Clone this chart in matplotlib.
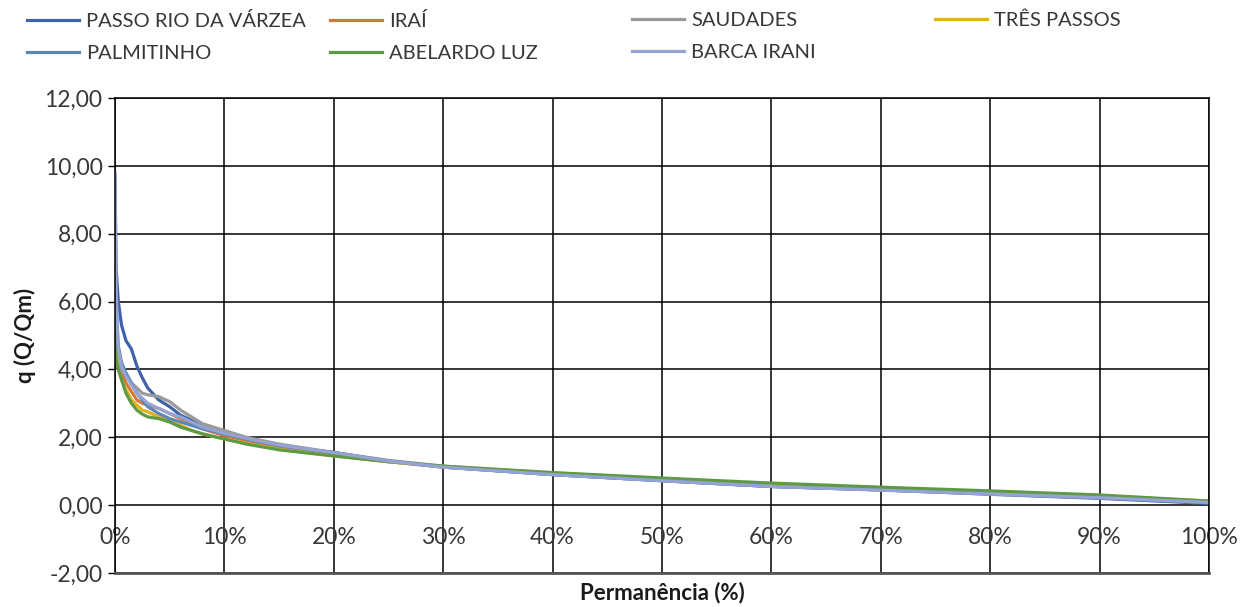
import matplotlib
matplotlib.use("Agg")
import matplotlib.pyplot as plt
from matplotlib.ticker import FuncFormatter, MultipleLocator

plt.rcParams['font.family'] = ['Lato', 'DejaVu Sans']

# Permanence (%)
perm = [0, 0.1, 0.3, 0.6, 1.0, 1.5, 2.0, 2.5, 3.0, 4.0, 5.0, 6.0, 7.0, 8.0,
        10, 12, 15, 20, 25, 30, 40, 50, 60, 70, 80, 90, 100]

passo_rio_da_varzea = [9.7, 7.0, 6.0, 5.3, 4.85, 4.6, 4.1, 3.75, 3.45, 3.1, 2.9, 2.65, 2.5, 2.3,
                       2.15, 1.95, 1.75, 1.55, 1.3, 1.12, 0.9, 0.72, 0.55, 0.45, 0.32, 0.2, 0.05]
irai = [8.9, 5.5, 4.3, 3.9, 3.6, 3.35, 3.1, 3.0, 2.95, 2.85, 2.7, 2.55, 2.4, 2.25,
        2.05, 1.9, 1.7, 1.48, 1.28, 1.12, 0.92, 0.75, 0.6, 0.48, 0.38, 0.27, 0.1]
saudades = [7.3, 5.0, 4.3, 4.0, 3.8, 3.6, 3.45, 3.3, 3.25, 3.2, 3.05, 2.8, 2.6, 2.4,
            2.2, 2.0, 1.8, 1.55, 1.32, 1.15, 0.92, 0.73, 0.56, 0.45, 0.33, 0.22, 0.08]
tres_passos = [6.5, 4.5, 4.0, 3.7, 3.4, 3.1, 2.95, 2.8, 2.75, 2.6, 2.5, 2.35, 2.2, 2.1,
               1.95, 1.82, 1.65, 1.45, 1.28, 1.14, 0.95, 0.78, 0.62, 0.5, 0.4, 0.28, 0.12]
palmitinho = [8.2, 5.8, 4.7, 4.2, 3.9, 3.6, 3.3, 3.1, 2.9, 2.7, 2.55, 2.45, 2.35, 2.25,
              2.1, 1.95, 1.75, 1.55, 1.3, 1.13, 0.9, 0.72, 0.55, 0.45, 0.34, 0.22, 0.07]
abelardo_luz = [6.0, 4.3, 4.0, 3.7, 3.3, 3.0, 2.8, 2.68, 2.6, 2.55, 2.45, 2.3, 2.2, 2.1,
                1.95, 1.8, 1.63, 1.45, 1.28, 1.15, 0.96, 0.8, 0.65, 0.53, 0.42, 0.3, 0.12]
barca_irani = [9.8, 6.3, 4.6, 4.1, 3.8, 3.55, 3.3, 3.15, 3.0, 2.85, 2.7, 2.6, 2.45, 2.3,
               2.12, 1.97, 1.77, 1.55, 1.3, 1.12, 0.9, 0.72, 0.55, 0.44, 0.33, 0.22, 0.08]

series_names = ["PASSO RIO DA VÁRZEA", "IRAÍ", "SAUDADES", "TRÊS PASSOS",
                "PALMITINHO", "ABELARDO LUZ", "BARCA IRANI"]
series_values = [passo_rio_da_varzea, irai, saudades, tres_passos,
                 palmitinho, abelardo_luz, barca_irani]
colors = ["#3F62A8", "#D5763A", "#9A9A9A", "#E3B11A", "#5B86B8", "#5E9A45", "#95A3D4"]

W, H = 1244, 607
fig = plt.figure(figsize=(W / 100, H / 100), dpi=100)
ax = fig.add_axes([115 / W, 1 - 573 / H, (1209 - 115) / W, (573 - 98) / H])

lines = {}
for name, vals, c in zip(series_names, series_values, colors):
    ln, = ax.plot(perm, vals, color=c, lw=2.3, label=name, solid_joinstyle='round')
    lines[name] = ln

ax.set_xlim(0, 100)
ax.set_ylim(-2, 12)
ax.xaxis.set_major_locator(MultipleLocator(10))
ax.yaxis.set_major_locator(MultipleLocator(2))
ax.xaxis.set_major_formatter(FuncFormatter(lambda v, p: f"{int(round(v))}%"))
ax.yaxis.set_major_formatter(FuncFormatter(lambda v, p: f"{v:.2f}".replace('.', ',')))
ax.grid(True, color='black', lw=1.1)
ax.set_axisbelow(True)
for s in ['top', 'right', 'left']:
    ax.spines[s].set_color('black')
    ax.spines[s].set_linewidth(1.1)
ax.spines['bottom'].set_color('#555555')
ax.spines['bottom'].set_linewidth(2)

ax.tick_params(axis='y', direction='out', length=5, width=1, color='black',
               labelsize=16.5, labelcolor='#383838', pad=4)
ax.tick_params(axis='x', length=0, labelsize=16.5, labelcolor='#383838', pad=-33)

ax.set_xlabel("Permanência (%)", fontsize=16, fontweight='bold', labelpad=6, color='#1a1a1a')
ax.set_ylabel("q (Q/Qm)", fontsize=16, fontweight='bold', labelpad=6, color='#1a1a1a')

# legends arranged in Excel-like fixed columns
col_x = [27, 330, 632, 935]
columns = [["PASSO RIO DA VÁRZEA", "PALMITINHO"],
           ["IRAÍ", "ABELARDO LUZ"],
           ["SAUDADES", "BARCA IRANI"],
           ["TRÊS PASSOS"]]
for x0, names in zip(col_x, columns):
    fig.legend(handles=[lines[n] for n in names], loc='upper left',
               bbox_to_anchor=(x0 / W, 1 - 12 / H), frameon=False,
               fontsize=14.5, handlelength=2.6, handletextpad=0.35,
               borderpad=0, borderaxespad=0, labelspacing=0.75,
               labelcolor='#383838')

fig.savefig("out.png", dpi=100)
